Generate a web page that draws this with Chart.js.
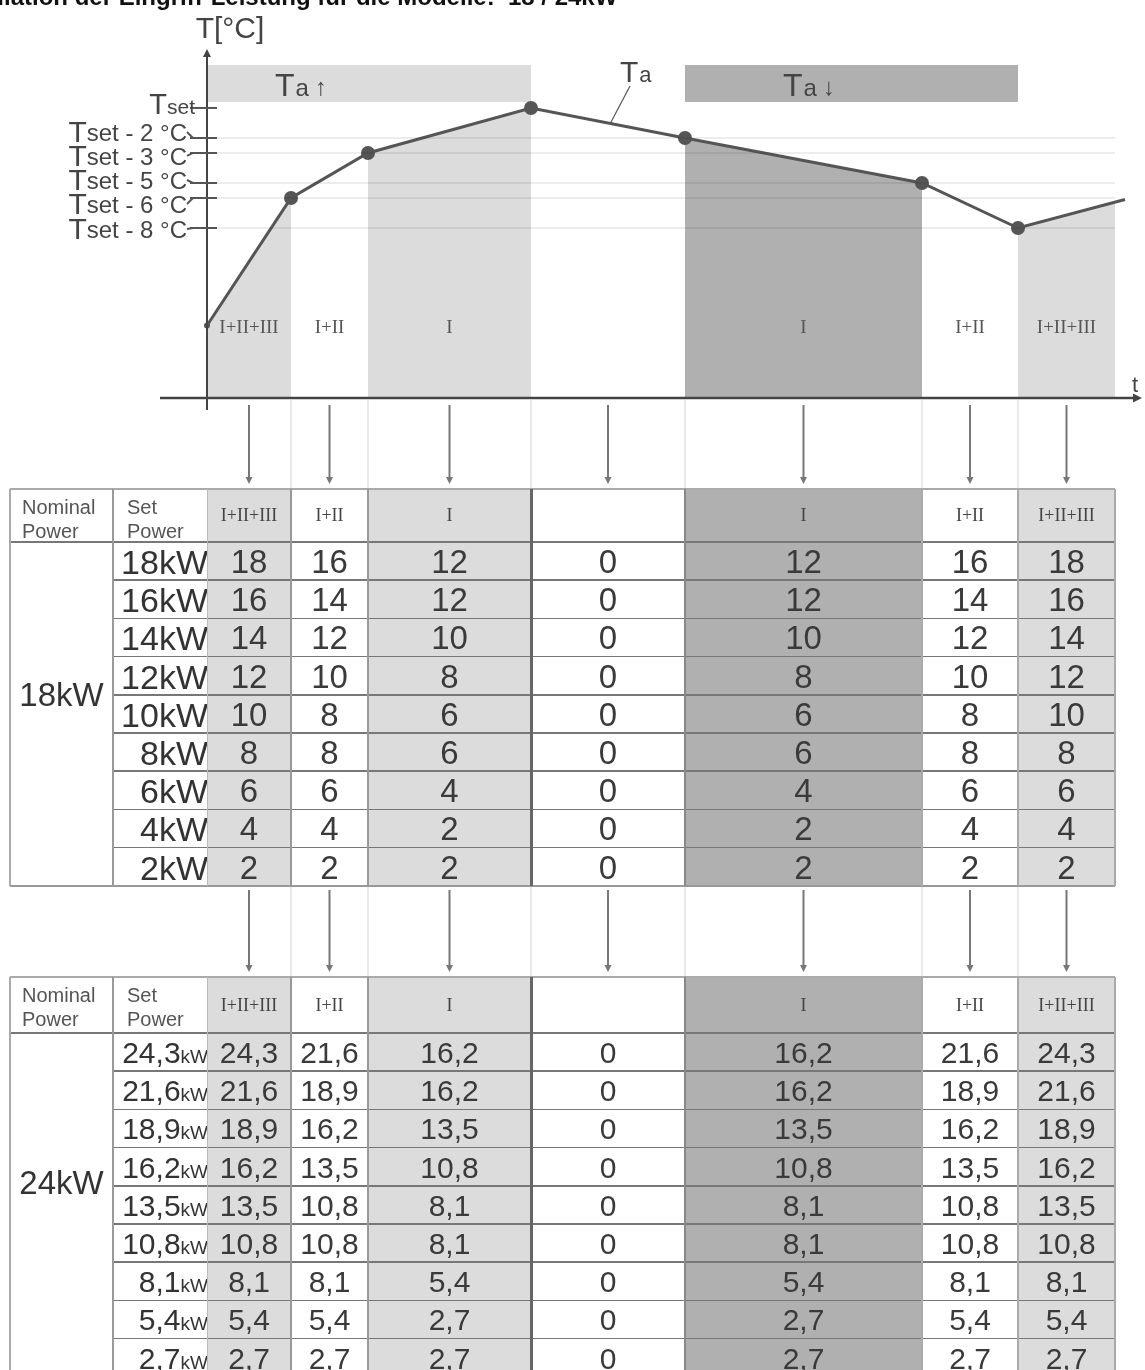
<!DOCTYPE html>
<html>
<head>
<meta charset="utf-8">
<script src="https://cdn.jsdelivr.net/npm/chart.js@4.4.1/dist/chart.umd.min.js"></script>
<style>
  body { margin: 0; background: #fff; font-family: Arial, "Liberation Sans", sans-serif; }
  #wrap { position: relative; width: 1145px; height: 1370px; overflow: hidden; background: #fff; }
  #chart { position: absolute; left: 0; top: 0; }
  #title { position: absolute; left: -60px; top: -15px; font: bold 24px Arial, "Liberation Sans", sans-serif; line-height: 24px; white-space: nowrap; color: #111; }
  #tables { position: absolute; left: 0; top: 0; }
  .c { position: absolute; box-sizing: border-box; white-space: nowrap; }
</style>
</head>
<body>
<div id="wrap">
  <canvas id="chart" width="1145" height="1370"></canvas>
  <div id="title">Modulation der Eingriff-Leistung für die Modelle:&nbsp; 18 / 24kW</div>
  <div id="tables"></div>
</div>
<script>
// time axis: band edges and the Ta curve (temperatures as offset from Tset)
const bandEdgesT = [0, 84, 161, 324, 478, 715, 811, 908];
const bandEdgeTemp = [-14.5, -6, -3, 0, -2, -5, -8, -6.2];
const stageLabels = ['I+II+III', 'I+II', 'I', '', 'I', 'I+II', 'I+II+III'];
const stageShade = ['light', 'none', 'light', 'none', 'dark', 'none', 'light'];
const lineT = [0, 84, 161, 324, 478, 715, 811, 918];
const lineTemp = [-14.5, -6, -3, 0, -2, -5, -8, -6.1];

// temperature ticks (offset from Tset)
const tickOffsets = [0, -2, -3, -5, -6, -8];
const tickLabels = ['', ' - 2 °C', ' - 3 °C', ' - 5 °C', ' - 6 °C', ' - 8 °C'];

// 18kW table
const nominal18 = '18kW';
const setPower18 = [18, 16, 14, 12, 10, 8, 6, 4, 2];
const rows18 = [
  [18, 16, 12, 0, 12, 16, 18],
  [16, 14, 12, 0, 12, 14, 16],
  [14, 12, 10, 0, 10, 12, 14],
  [12, 10, 8, 0, 8, 10, 12],
  [10, 8, 6, 0, 6, 8, 10],
  [8, 8, 6, 0, 6, 8, 8],
  [6, 6, 4, 0, 4, 6, 6],
  [4, 4, 2, 0, 2, 4, 4],
  [2, 2, 2, 0, 2, 2, 2]
];

// 24kW table
const nominal24 = '24kW';
const setPower24 = [24.3, 21.6, 18.9, 16.2, 13.5, 10.8, 8.1, 5.4, 2.7];
const rows24 = [
  [24.3, 21.6, 16.2, 0, 16.2, 21.6, 24.3],
  [21.6, 18.9, 16.2, 0, 16.2, 18.9, 21.6],
  [18.9, 16.2, 13.5, 0, 13.5, 16.2, 18.9],
  [16.2, 13.5, 10.8, 0, 10.8, 13.5, 16.2],
  [13.5, 10.8, 8.1, 0, 8.1, 10.8, 13.5],
  [10.8, 10.8, 8.1, 0, 8.1, 10.8, 10.8],
  [8.1, 8.1, 5.4, 0, 5.4, 8.1, 8.1],
  [5.4, 5.4, 2.7, 0, 2.7, 5.4, 5.4],
  [2.7, 2.7, 2.7, 0, 2.7, 2.7, 2.7]
];

const shadeColor = { light: '#dcdcdc', dark: '#b0b0b0', none: 'transparent' };
const serif = '"Liberation Serif", "DejaVu Serif", serif';
// small vertical nudges of the stacked y labels, as in the original
const labelNudge = [-4, -6, 3, -3, 6, 1];

function arrowHead(ctx, x, y, dir, size) {
  ctx.beginPath();
  if (dir === 'down') { ctx.moveTo(x - size / 2, y - size); ctx.lineTo(x + size / 2, y - size); ctx.lineTo(x, y); }
  if (dir === 'up') { ctx.moveTo(x - size / 2, y + size); ctx.lineTo(x + size / 2, y + size); ctx.lineTo(x, y); }
  if (dir === 'right') { ctx.moveTo(x - size, y - size / 2); ctx.lineTo(x - size, y + size / 2); ctx.lineTo(x, y); }
  ctx.closePath();
  ctx.fill();
}

function drawTa(ctx, x, y, big, small) {
  ctx.textAlign = 'left';
  ctx.textBaseline = 'alphabetic';
  ctx.font = big + 'px Arial';
  ctx.fillText('T', x, y);
  const w = ctx.measureText('T').width;
  ctx.font = small + 'px Arial';
  ctx.fillText('a', x + w + 1, y);
  return x + w + 1 + ctx.measureText('a').width;
}

const sketch = {
  id: 'sketch',
  beforeDatasetsDraw(chart) {
    const { ctx, scales: { x, y } } = chart;
    ctx.save();
    // Ta up / Ta down boxes
    const top = 65, bot = y.getPixelForValue(0) - 6;
    ctx.fillStyle = shadeColor.light;
    ctx.fillRect(x.getPixelForValue(bandEdgesT[0]), top, x.getPixelForValue(bandEdgesT[3]) - x.getPixelForValue(bandEdgesT[0]), bot - top);
    ctx.fillStyle = shadeColor.dark;
    ctx.fillRect(x.getPixelForValue(bandEdgesT[4]), top, x.getPixelForValue(bandEdgesT[6]) - x.getPixelForValue(bandEdgesT[4]), bot - top);
    ctx.restore();
  },
  afterDatasetsDraw(chart) {
    const { ctx, scales: { x, y }, chartArea } = chart;
    ctx.save();
    // faint grid lines
    ctx.strokeStyle = 'rgba(0,0,0,0.07)';
    ctx.lineWidth = 2;
    tickOffsets.slice(1).forEach(v => {
      ctx.beginPath();
      ctx.moveTo(x.getPixelForValue(0), y.getPixelForValue(v));
      ctx.lineTo(x.getPixelForValue(bandEdgesT[7]), y.getPixelForValue(v));
      ctx.stroke();
    });
    // stage labels in the bands
    ctx.fillStyle = '#555';
    ctx.font = '19px ' + serif;
    ctx.textAlign = 'center';
    ctx.textBaseline = 'middle';
    stageLabels.forEach((s, i) => {
      const cx = (x.getPixelForValue(bandEdgesT[i]) + x.getPixelForValue(bandEdgesT[i + 1])) / 2;
      ctx.fillText(s, cx, chartArea.bottom - 70);
    });
    ctx.restore();
  },
  afterDraw(chart) {
    const { ctx, scales: { x, y }, chartArea } = chart;
    const x0 = x.getPixelForValue(0);
    const yb = chartArea.bottom;
    ctx.save();

    // faint vertical lines below the chart and between the tables
    ctx.strokeStyle = '#e3e3e3';
    ctx.lineWidth = 1.5;
    bandEdgesT.slice(1, 7).forEach(t => {
      const px = x.getPixelForValue(t);
      [[yb + 2, 489], [886, 977]].forEach(([a, b]) => {
        ctx.beginPath(); ctx.moveTo(px, a); ctx.lineTo(px, b); ctx.stroke();
      });
    });

    // axes
    ctx.strokeStyle = '#444';
    ctx.fillStyle = '#444';
    ctx.lineWidth = 2.5;
    ctx.beginPath(); ctx.moveTo(chartArea.left, yb); ctx.lineTo(chartArea.right - 2, yb); ctx.stroke();
    arrowHead(ctx, chartArea.right + 2, yb, 'right', 9);
    ctx.lineWidth = 2;
    ctx.beginPath(); ctx.moveTo(x0, yb + 12); ctx.lineTo(x0, chartArea.top); ctx.stroke();
    arrowHead(ctx, x0, chartArea.top - 6, 'up', 8);

    ctx.fillStyle = '#444';
    ctx.font = '30px Arial';
    ctx.textAlign = 'center';
    ctx.textBaseline = 'alphabetic';
    ctx.fillText('T[°C]', x0 + 23, 38);
    ctx.font = '22px Arial';
    ctx.fillText('t', chartArea.right - 5, yb - 6);

    // y ticks and labels
    ctx.strokeStyle = '#555';
    ctx.lineWidth = 2;
    tickOffsets.forEach((v, i) => {
      const py = y.getPixelForValue(v);
      const ly = py + labelNudge[i];
      ctx.beginPath(); ctx.moveTo(x0 - 17, py); ctx.lineTo(x0 + 10, py); ctx.stroke();
      ctx.fillStyle = '#444';
      ctx.textBaseline = 'alphabetic';
      ctx.textAlign = 'left';
      if (i === 0) {
        ctx.font = '29px Arial';
        const tw = ctx.measureText('T').width;
        ctx.font = '21px Arial';
        const sw = ctx.measureText('set').width;
        const sx = x0 - 12 - sw - tw;
        ctx.font = '29px Arial';
        ctx.fillText('T', sx, ly + 10);
        ctx.font = '21px Arial';
        ctx.fillText('set', sx + tw, ly + 10);
        return;
      }
      const txt = 'set' + tickLabels[i];
      ctx.font = '30px Arial';
      const tw = ctx.measureText('T').width;
      ctx.font = '24px Arial';
      const sw = ctx.measureText(txt).width;
      const right = x0 - 20;
      const sx = right - sw - tw;
      ctx.font = '30px Arial';
      ctx.fillText('T', sx, ly + 10);
      ctx.font = '24px Arial';
      ctx.fillText(txt, sx + tw, ly + 9);
      ctx.beginPath(); ctx.moveTo(right, ly); ctx.lineTo(x0 - 14, py); ctx.stroke();
    });

    // Ta label with leader line
    const lx = x.getPixelForValue(413), ly = 82;
    ctx.fillStyle = '#444';
    drawTa(ctx, lx, ly, 30, 22);
    ctx.strokeStyle = '#555';
    ctx.lineWidth = 1.2;
    ctx.beginPath(); ctx.moveTo(lx + 10, ly + 4); ctx.lineTo(lx - 10, 124); ctx.stroke();

    // Ta up / Ta down captions
    ctx.fillStyle = '#444';
    let ex = drawTa(ctx, x.getPixelForValue(68), 96, 32, 24);
    ctx.font = '24px Arial';
    ctx.fillText('↑', ex + 6, 95);
    ex = drawTa(ctx, x.getPixelForValue(576), 96, 32, 24);
    ctx.fillText('↓', ex + 6, 95);

    // arrows from chart to tables
    ctx.strokeStyle = '#777';
    ctx.fillStyle = '#777';
    ctx.lineWidth = 2;
    stageLabels.forEach((s, i) => {
      const cx = (x.getPixelForValue(bandEdgesT[i]) + x.getPixelForValue(bandEdgesT[i + 1])) / 2;
      [[yb + 7, 484], [890, 972]].forEach(([a, b]) => {
        ctx.beginPath(); ctx.moveTo(cx, a); ctx.lineTo(cx, b - 6); ctx.stroke();
        arrowHead(ctx, cx, b, 'down', 7);
      });
    });
    ctx.restore();
  }
};

const datasets = [{
  data: lineT.map((t, i) => ({ x: t, y: lineTemp[i] })),
  borderColor: '#555',
  borderWidth: 3,
  pointRadius: [3, 7, 7, 7, 7, 7, 7, 0],
  pointBackgroundColor: '#555',
  pointBorderWidth: 0,
  fill: false,
  tension: 0
}];
stageShade.forEach((s, i) => {
  if (s === 'none') return;
  datasets.push({
    data: [
      { x: bandEdgesT[i], y: bandEdgeTemp[i] },
      { x: bandEdgesT[i + 1], y: bandEdgeTemp[i + 1] }
    ],
    backgroundColor: shadeColor[s],
    borderWidth: 0,
    pointRadius: 0,
    fill: 'start'
  });
});

const chart = new Chart(document.getElementById('chart'), {
  type: 'line',
  data: { datasets: datasets },
  options: {
    responsive: false,
    animation: false,
    devicePixelRatio: 1,
    layout: { padding: { left: 160, right: 5, top: 55, bottom: 972 } },
    scales: {
      x: { type: 'linear', min: -47, max: 933, display: false },
      y: { type: 'linear', min: -19.33, max: 3.53, display: false }
    },
    plugins: { legend: { display: false }, tooltip: { enabled: false } }
  },
  plugins: [sketch]
});

// tables, column edges taken from the chart's x scale
const px = bandEdgesT.map(t => Math.round(chart.scales.x.getPixelForValue(t)));
const edges = [10, 113].concat(px);
const root = document.getElementById('tables');

function add(l, t, w, h, style, html) {
  const d = document.createElement('div');
  d.className = 'c';
  d.style.cssText = `left:${l}px;top:${t}px;width:${w}px;height:${h}px;` + style;
  if (html !== undefined) d.innerHTML = html;
  root.appendChild(d);
}
function hLine(x1, x2, yy, color, w) { add(x1, yy - w / 2, x2 - x1, w, 'background:' + color); }
function vLine(xx, y1, y2, color, w) { add(xx - w / 2, y1, w, y2 - y1, 'background:' + color); }
const fmtComma = v => String(v).replace('.', ',');

function buildTable(top, headH, rowH, nominal, setPowers, rows, o) {
  const bottom = top + headH + rowH * rows.length;
  const right = edges[edges.length - 1];
  stageShade.forEach((s, i) => {
    if (s !== 'none') add(edges[i + 2], top, edges[i + 3] - edges[i + 2], bottom - top, 'background:' + shadeColor[s]);
  });
  add(22, top + 6, 90, 46, 'font-size:20px;line-height:24px;color:#555', 'Nominal<br>Power');
  add(127, top + 6, 80, 46, 'font-size:20px;line-height:24px;color:#555', 'Set<br>Power');
  stageLabels.forEach((s, i) => {
    add(edges[i + 2], top, edges[i + 3] - edges[i + 2], headH,
      `font:18px ${serif};color:#444;text-align:center;line-height:${headH}px`, s);
  });
  add(10, top, 103, 412, `font-size:33px;color:#333;text-align:center;line-height:412px`, nominal);
  rows.forEach((r, ri) => {
    const ty = top + headH + ri * rowH;
    add(113, ty, 95, rowH, `text-align:right;padding-right:0;color:#333;line-height:${rowH + 2}px;font-size:${o.setSize}px`, o.setFmt(setPowers[ri]));
    r.forEach((v, ci) => {
      add(edges[ci + 2], ty, edges[ci + 3] - edges[ci + 2], rowH,
        `text-align:center;color:#3a3a3a;font-size:${o.valSize}px;line-height:${rowH + 2}px`, o.valFmt(v));
    });
  });
  hLine(10, right, top, '#aaa', 2);
  hLine(10, right, top + headH, '#777', 2.5);
  for (let ri = 1; ri < rows.length; ri++) hLine(113, right, top + headH + ri * rowH, '#777', 1.5);
  hLine(10, right, bottom, '#999', 2);
  vLine(10, top, bottom, '#aaa', 2);
  vLine(113, top, bottom, '#999', 1.5);
  vLine(edges[2], top, bottom, '#bbb', 1);
  vLine(edges[3], top, bottom, '#999', 1.5);
  vLine(edges[4], top, bottom, '#999', 1.5);
  vLine(edges[5], top, bottom, '#666', 3);
  vLine(edges[6], top, bottom, '#888', 2);
  vLine(edges[7], top, bottom, '#aaa', 1.5);
  vLine(edges[8], top, bottom, '#aaa', 1.5);
  vLine(right, top, bottom, '#aaa', 2);
}

buildTable(489, 53, 38.2, nominal18, setPower18, rows18, {
  setSize: 34, valSize: 33,
  setFmt: v => v + 'kW',
  valFmt: v => String(v)
});
buildTable(977, 56, 38.2, nominal24, setPower24, rows24, {
  setSize: 30, valSize: 30,
  setFmt: v => fmtComma(v) + '<span style="font-size:19px">kW</span>',
  valFmt: fmtComma
});
</script>
</body>
</html>
